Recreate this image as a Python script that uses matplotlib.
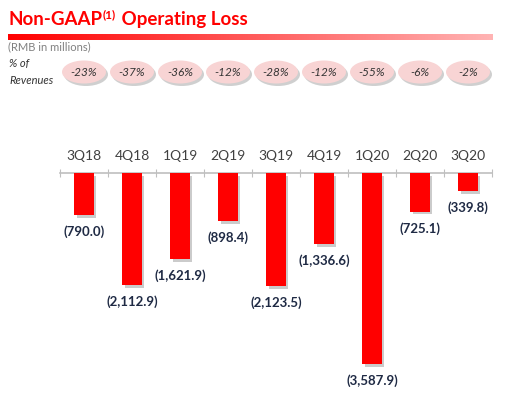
import matplotlib
matplotlib.use("Agg")
import matplotlib.pyplot as plt
import matplotlib.patheffects as pe
from matplotlib.patches import Ellipse
import numpy as np

plt.rcParams['font.family'] = ['Lato', 'DejaVu Sans']

quarters = ["3Q18", "4Q18", "1Q19", "2Q19", "3Q19", "4Q19", "1Q20", "2Q20", "3Q20"]
op_loss = [-790.0, -2112.9, -1621.9, -898.4, -2123.5, -1336.6, -3587.9, -725.1, -339.8]
pct_rev = ["-23%", "-37%", "-36%", "-12%", "-28%", "-12%", "-55%", "-6%", "-2%"]

W, H = 522, 397
fig = plt.figure(figsize=(W / 100, H / 100), dpi=100)

# header layer in pixel coords (y from top)
hdr = fig.add_axes([0, 0, 1, 1])
hdr.set_xlim(0, W)
hdr.set_ylim(H, 0)
hdr.axis("off")

red = "#ff0000"
t1 = hdr.text(8, 25, "Non-GAAP", color=red, fontsize=13.5, fontweight="bold", va="baseline")
fig.canvas.draw()
r = fig.canvas.get_renderer()
bb = t1.get_window_extent(r)
x2 = bb.x1 + 1
t2 = hdr.text(x2, 18, "(1)", color=red, fontsize=8.5, fontweight="bold", va="baseline")
bb2 = t2.get_window_extent(r)
hdr.text(bb2.x1 + 1, 25, " Operating Loss", color=red, fontsize=13.5, fontweight="bold", va="baseline")

# gradient rule
grad = np.linspace(0, 1, 256).reshape(1, -1)
cmap = matplotlib.colors.LinearSegmentedColormap.from_list("rg", ["#ff0000", "#ff5a5a", "#ffb4b4"])
hdr.imshow(grad, cmap=cmap, aspect="auto", extent=[8, 493, 40, 34], zorder=1)
hdr.set_xlim(0, W)
hdr.set_ylim(H, 0)

hdr.text(8, 47, "(RMB in millions)", color="#808080", fontsize=8, va="center")
hdr.text(9, 64, "% of", color="#333333", fontsize=8, style="italic", va="center")
hdr.text(9, 80, "Revenues", color="#333333", fontsize=8, style="italic", va="center")

# main bar chart
left = 60 / W
right = 492 / W
top_px, bot_px = 173, 375
ax = fig.add_axes([left, 1 - bot_px / H, right - left, (bot_px - top_px) / H])
x = np.arange(len(quarters))
bars = ax.bar(x, op_loss, width=0.4, color=red, zorder=3)
for b in bars:
    b.set_path_effects([pe.SimplePatchShadow(offset=(2, -2), shadow_rgbFace="#999999", alpha=0.5), pe.Normal()])
ax.set_xlim(-0.5, len(quarters) - 0.5)
ax.set_ylim(-3800, 0)
for s in ["left", "right", "bottom"]:
    ax.spines[s].set_visible(False)
ax.spines["top"].set_color("#bfbfbf")
ax.spines["top"].set_linewidth(1.2)
ax.set_yticks([])
ax.set_xticks(np.arange(-0.5, len(quarters), 1))
ax.xaxis.set_ticks_position("top")
ax.tick_params(axis="x", direction="inout", length=6, color="#bfbfbf", labeltop=False, labelbottom=False)

for i, q in enumerate(quarters):
    ax.annotate(q, (i, 0), xytext=(0, 12), textcoords="offset points",
                ha="center", va="center", fontsize=10, color="#404040")
for i, v in enumerate(op_loss):
    ax.annotate("({:,.1f})".format(-v), (i, v), xytext=(0, -12), textcoords="offset points",
                ha="center", va="center", fontsize=9.5, fontweight="bold", color="#1f2a44")

# percent-of-revenue ovals, aligned with bar centers
for i, p in enumerate(pct_rev):
    cx = 60 + (i + 0.5) * 432 / len(quarters)
    sh = Ellipse((cx + 2, 74.5), 44, 23, facecolor="#b0b0b0", edgecolor="none", alpha=0.6, zorder=2)
    hdr.add_patch(sh)
    el = Ellipse((cx, 72), 44, 23, facecolor="#f8d4d4", edgecolor="none", zorder=3)
    hdr.add_patch(el)
    hdr.text(cx, 72, p, ha="center", va="center", fontsize=8.5, style="italic", color="#333333", zorder=4)

fig.savefig("out.png", dpi=100)
